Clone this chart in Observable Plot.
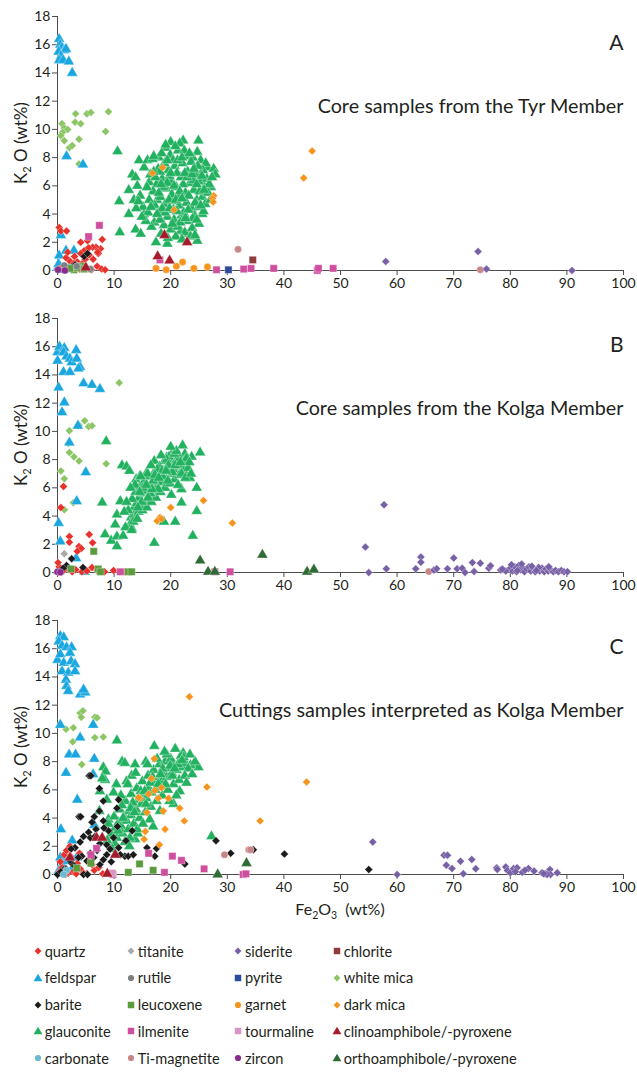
<!DOCTYPE html>
<html><head><meta charset="utf-8">
<script src="https://cdn.jsdelivr.net/npm/d3@7"></script>
<script src="https://cdn.jsdelivr.net/npm/@observablehq/plot@0.6"></script>
<style>
body{margin:0;background:#fff;font-family:Lato,"Open Sans",sans-serif;}
#chart{position:relative;width:637px;}
#chart svg{display:block;}
#legend{position:relative;width:637px;height:142px;}
.item{position:absolute;display:flex;align-items:center;height:20px;font-size:14.6px;color:#231f20;white-space:nowrap;}
.item svg{margin-right:2px;}
</style></head><body><div id="chart"></div><div id="legend"></div>
<script>
// ---------- categories ----------
const minerals = ["quartz","titanite","siderite","chlorite","feldspar","rutile","pyrite","white mica","barite","leucoxene","garnet","dark mica","glauconite","ilmenite","tourmaline","clinoamphibole/-pyroxene","carbonate","Ti-magnetite","zircon","orthoamphibole/-pyroxene"];
const mineralColors = ["#e8312b","#a9a9ab","#7760a6","#8e3b3a","#1aa7e0","#7d7f81","#2e4b9b","#8cc564","#1b1b1b","#5a9c3c","#f7941e","#f7941e","#21b15f","#cf4f9e","#d696c3","#a51b2c","#6ab9cf","#c88585","#8a2b8c","#2f6b35"];
const mineralSymbols = ["diamond2","diamond2","diamond2","square","triangle","circle","square","diamond2","diamond2","square","circle","diamond2","triangle","square","square","triangle","circle","circle","circle","triangle"];
const drawOrder = ["glauconite","white mica","feldspar","quartz","barite","leucoxene","rutile","titanite","carbonate","zircon","dark mica","garnet","ilmenite","tourmaline","chlorite","pyrite","Ti-magnetite","clinoamphibole/-pyroxene","orthoamphibole/-pyroxene","siderite"];
const xTicks = [0,10,20,30,40,50,60,70,80,90,100];
const yTicks = [0,2,4,6,8,10,12,14,16,18];
const panelLetters = ["A","B","C"];
const panelTitles = ["Core samples from the Tyr Member","Core samples from the Kolga Member","Cuttings samples interpreted as Kolga Member"];

// ---------- Panel A: Tyr Member core (Fe2O3, K2O) ----------
const A_feldspar = [[0.3,16.4],[0.5,16.0],[0.8,15.8],[1.2,15.6],[0.2,15.5],[1.5,15.7],[0.6,15.2],[0.3,14.9],[1.0,14.9],[2.0,14.8],[2.6,14.0],[1.6,8.1],[4.5,7.5],[0.6,2.5],[1.5,1.4],[2.9,1.4],[0.3,1.05],[2.3,0.35],[0.1,0.2],[0.5,0.1],[0.2,0.45],[1.1,0.05]];
const A_whiteMica = [[0.8,10.4],[1.2,10.1],[0.9,9.8],[0.6,9.55],[1.2,9.2],[1.8,10.0],[2.1,8.7],[2.6,8.85],[3.8,9.3],[3.2,11.1],[3.1,10.5],[4.1,10.4],[5.2,11.1],[5.9,11.2],[9.0,11.25],[8.5,9.85],[3.8,7.55],[5.4,1.6]];
const A_quartz = [[0.3,3.05],[0.6,2.8],[1.6,2.8],[7.9,2.2],[7.6,1.55],[6.8,1.65],[4.1,2.0],[4.7,1.4],[2.1,0.7],[3.0,1.0],[3.5,0.6],[5.6,1.1],[6.3,0.8],[7.2,1.2],[5.3,2.1],[6.2,1.65],[1.0,0.3],[1.5,0.9],[2.6,0.2],[3.9,0.1],[4.4,0.5],[5.2,0.2],[6.0,0.05],[7.0,0.3],[7.8,0.1],[8.4,0.05],[0.2,0.1],[1.8,1.3],[2.9,0.5],[4.9,0.8],[5.5,1.6],[7.1,1.3],[3.3,0.3],[4.1,1.2]];
const A_barite = [[4.7,1.0],[5.3,1.2],[3.1,0.4]];
const A_leucoxene = [[4.1,0.3],[2.9,0.05],[3.6,0.2],[4.7,0.1],[2.2,0.15]];
const A_rutile = [[1.2,0.35],[3.4,0.3],[5.8,0.1]];
const A_zircon = [[0.1,0.05],[1.3,0.0]];
const A_glauconite = [[10.6,8.45],[10.9,4.9],[11.0,2.7],[12.6,5.7],[13.2,6.8],[13.8,6.6],[12.6,4.0],[13.5,5.0],[14.4,7.8],[14.1,6.0],[15.3,7.3],[15.9,7.8],[13.8,2.9],[14.7,2.6],[15.3,4.0],[17.4,2.0],[19.4,1.9],[17.6,5.0],[19.2,8.7],[20.0,9.1],[22.2,9.2],[24.9,9.2],[24.7,8.4],[25.3,7.8],[26.5,7.3],[27.6,7.2],[27.9,6.8],[27.1,5.9],[25.6,4.0],[24.7,2.1],[23.2,2.6],[21.8,2.8],[17.9,8.0],[16.8,7.9],[16.2,6.25],
[18.5,6.5],[19.2,5.8],[20.1,6.3],[21.0,5.9],[21.8,6.6],[22.6,5.5],[23.4,6.2],[24.1,5.7],[19.6,7.1],[20.7,7.4],[22.1,7.6],[23.0,7.0],[24.5,6.8],[25.3,6.3],[26.0,5.9],[18.2,5.2],[19.0,4.7],[20.3,4.9],[21.5,4.6],[22.8,4.8],[23.7,4.4],[24.6,5.0],[25.6,5.2],[26.4,6.5],[17.5,6.1],[16.9,5.6],[17.2,4.6],[18.0,4.1],[19.4,3.8],[20.6,3.6],[21.9,3.9],[23.1,3.5],[24.2,3.9],[25.0,3.3],[18.8,3.2],[20.0,2.9],[21.2,3.1],[22.5,2.7],[23.8,3.0],[19.9,8.2],[21.3,8.5],[22.7,8.1],[23.9,8.0],[21.6,9.0],[20.4,7.8],[18.9,7.6],[17.8,7.2],[16.4,6.8],[15.8,5.9],[16.2,5.0],[15.1,4.5],[14.6,5.3],[16.0,4.1],[17.1,3.4],[18.3,2.6],[20.9,2.4],[22.0,2.2],[23.5,2.4],[24.3,2.5],[19.5,2.3],[26.8,6.1],[27.3,6.6],[26.2,7.6],[25.7,7.1],[24.8,7.4],[23.6,7.7],[22.4,8.5],[20.8,8.8],[19.1,8.9],[18.4,8.3],[17.0,8.1],[20.2,5.4],[21.4,5.2],[22.2,6.1],[23.2,5.3],[24.0,6.4],[19.8,6.7],[21.1,6.9],[22.9,6.6],[25.1,5.6],[18.7,5.9],[17.9,5.5],[20.5,4.3],[22.3,4.1],[24.9,4.5],[26.1,4.7],[27.0,5.0],[19.0,4.1],[21.7,3.4],[23.9,3.7],[25.8,4.2],[16.6,3.1],[15.6,3.5],[14.9,3.8],[13.9,4.4],[14.3,4.9],
[17.3,6.6],[18.1,7.0],[19.4,6.2],[20.6,6.0],[21.6,5.6],[22.5,6.9],[23.8,6.8],[24.6,6.1],[25.5,6.7],[19.7,5.0],[20.9,5.0],[22.0,5.1],[23.1,4.3],[24.3,4.8],[25.3,4.6],[18.5,4.4],[19.8,4.4],[21.1,4.2],[22.6,3.7],[24.6,3.6],[20.3,3.3],[18.1,3.6],[17.6,4.0],[16.5,4.5],[26.6,5.5],[25.9,5.7],[21.2,7.8],[22.0,8.0],[23.3,8.3],[19.4,7.8],[18.3,6.1],[17.0,7.0],[24.1,7.2],[20.0,6.9]];
const A_darkMica = [[16.8,6.9],[18.6,7.3],[20.6,4.3],[27.6,5.3],[27.4,5.1],[27.5,4.85],[45.0,8.47],[43.5,6.56]];
const A_garnet = [[17.4,0.15],[19.2,0.05],[21.0,0.3],[22.1,0.6],[24.1,0.15],[26.5,0.25]];
const A_clino = [[18.9,2.5],[22.9,2.0],[17.7,1.0],[19.8,0.7],[5.0,0.2]];
const A_ilmenite = [[7.4,3.2],[5.5,2.4],[18.1,0.75],[28.1,0.05],[32.9,0.1],[34.2,0.15],[38.2,0.15],[45.9,0.0],[46.1,0.15],[48.7,0.15]];
const A_chlorite = [[34.5,0.75]];
const A_pyrite = [[30.2,0.05]];
const A_tiMagnetite = [[31.9,1.5],[74.7,0.05]];
const A_siderite = [[58.0,0.64],[74.3,1.35],[75.8,0.1],[90.9,0.0]];

// ---------- Panel B: Kolga Member core ----------
const B_feldspar = [[0.0,15.6],[0.35,16.0],[1.2,15.9],[1.06,15.6],[1.6,15.3],[2.2,15.15],[2.5,14.9],[3.3,15.75],[3.4,15.15],[4.0,14.55],[3.7,14.45],[1.06,14.2],[2.2,14.2],[0.0,15.0],[4.6,13.4],[6.1,13.3],[7.5,13.0],[0.2,13.1],[1.2,12.05],[0.8,11.35],[3.6,10.4],[2.1,9.2],[5.0,7.1],[3.4,5.05],[0.2,3.5],[0.5,2.2],[3.3,1.0],[0.2,0.1],[0.5,0.2],[4.8,0.05]];
const B_whiteMica = [[10.9,13.45],[4.8,10.75],[5.5,10.35],[6.1,10.4],[3.8,10.45],[2.1,10.05],[1.9,9.15],[2.1,8.5],[2.9,8.2],[3.8,7.9],[8.6,7.7],[0.6,7.2],[1.2,6.65],[2.8,4.95],[1.2,4.45]];
const B_quartz = [[1.06,6.1],[0.6,4.6],[2.1,2.55],[2.1,2.15],[3.8,1.85],[4.2,1.7],[3.5,1.5],[5.6,2.7],[6.2,2.1],[6.1,0.35],[7.0,0.15],[9.9,0.15],[4.3,0.05],[0.3,0.4],[1.0,0.1],[1.8,0.3],[2.6,0.05],[3.2,0.2],[5.2,0.1],[8.3,0.05],[11.9,0.05],[0.1,0.7]];
const B_titanite = [[1.2,1.33]];
const B_barite = [[2.5,0.97],[1.6,0.5],[4.5,0.36],[1.0,0.3]];
const B_leucoxene = [[6.4,1.5],[2.4,0.25],[7.2,0.25],[12.5,0.05],[13.1,0.05],[7.6,0.05]];
const B_ilmenite = [[11.1,0.05],[27.8,0.05],[30.5,0.05]];
const B_zircon = [[0.0,0.05],[0.5,0.02]];
const B_glauconite = [[8.6,9.3],[7.9,4.95],[8.4,2.7],[9.5,2.25],[10.5,2.55],[10.5,1.85],[11.6,2.6],[11.4,7.6],[12.2,7.5],[12.7,7.2],[11.1,5.05],[10.5,4.1],[10.2,3.4],[13.1,3.15],[13.4,4.0],[13.9,6.6],[14.6,6.85],[15.8,7.1],[17.1,2.1],[18.8,3.6],[20.8,3.6],[21.9,4.95],[21.9,5.9],[23.4,6.7],[23.7,8.2],[22.1,9.0],[22.5,8.4],[25.2,8.5],[24.6,6.0],[24.6,4.35],[23.9,2.6],[20.1,5.5],[17.1,7.9],[19.3,8.15],[20.2,8.4],
[13.5,4.6],[14.0,4.9],[14.4,5.3],[14.8,4.7],[15.2,5.6],[15.6,5.1],[16.0,6.0],[16.3,5.5],[16.7,6.3],[17.0,5.8],[17.4,6.6],[17.7,6.1],[18.1,6.9],[18.4,6.4],[18.8,7.2],[19.1,6.7],[19.4,7.5],[19.8,7.0],[20.1,7.7],[20.5,7.3],[20.9,7.9],[21.2,7.5],[21.6,8.1],[22.0,7.6],[22.4,7.9],[13.2,5.2],[13.8,5.7],[14.6,6.1],[15.4,6.5],[16.2,6.8],[17.1,7.1],[18.0,7.5],[18.9,7.9],[19.7,8.2],[20.6,8.4],[13.0,3.9],[13.6,4.1],[14.3,4.3],[15.0,4.4],[15.8,4.6],[16.6,5.0],[17.4,5.3],[18.2,5.7],[19.0,6.0],[19.9,6.3],[20.7,6.6],[21.5,6.9],[22.3,7.2],[23.1,7.4],[12.5,4.4],[12.8,3.4],[13.4,3.6],[14.1,3.8],[12.2,5.0],[11.8,4.3],[12.0,3.2],[13.1,3.0],[15.5,5.8],[16.9,6.5],[18.6,6.8],[20.3,7.1],[21.9,7.0],[22.8,8.1],[23.3,7.8],[19.5,6.5],[17.8,5.9],[16.4,5.6],[14.9,5.0],[14.2,4.6],[21.0,8.6],[19.3,8.0],[17.6,7.3],[20.0,8.9],[18.3,8.3],[15.9,7.0],[14.7,6.8],[13.7,6.2],[16.5,7.6],[22.6,6.7],[21.3,6.2],[23.6,7.0],[12.9,6.0],
[15.1,6.0],[16.0,5.3],[17.2,6.9],[18.5,7.2],[19.6,7.6],[20.8,7.6],[21.7,7.8],[17.9,6.7],[16.7,5.9],[15.7,6.2],[14.5,5.7],[19.2,7.2]];
const B_darkMica = [[25.8,5.1],[20.0,4.6],[18.1,3.9],[17.6,3.65],[18.4,3.8],[30.9,3.5]];
const B_ortho = [[25.2,0.85],[36.2,1.25],[26.6,0.05],[27.8,0.05],[44.1,0.05],[45.3,0.2]];
const B_tiMagnetite = [[65.6,0.07]];
const B_siderite = [[57.7,4.8],[54.4,1.8],[55.0,0.0],[58.1,0.26],[63.3,0.26],[64.2,1.09],[64.2,0.73],[66.5,0.17],[67.0,0.26],[68.9,0.26],[70.0,1.02],[70.6,0.26],[71.5,0.3],[72.0,0.0],[73.3,0.7],[73.6,0.07],[74.7,0.66],[76.2,0.3],[76.5,0.47],[78.3,0.17],
[80.0,0.3],[80.4,0.1],[80.8,0.4],[81.1,0.05],[81.5,0.5],[81.8,0.2],[82.1,0.35],[82.5,0.05],[82.9,0.25],[83.3,0.4],[83.6,0.1],[84.0,0.3],[84.4,0.05],[84.8,0.2],[85.2,0.1],[85.6,0.3],[86.0,0.05],[86.3,0.25],[86.7,0.1],[87.1,0.2],[87.6,0.05],[88.0,0.15],[88.5,0.05],[89.0,0.15],[89.5,0.05],[90.1,0.05],[79.2,0.1],[78.6,0.25],[80.2,0.55],[82.0,0.6],[83.8,0.45],[85.0,0.35],[86.8,0.4],[81.3,0.15],[84.6,0.15]];

// ---------- Panel C: cuttings interpreted as Kolga Member ----------
const C_feldspar = [[0.5,16.9],[1.1,16.8],[0.2,16.5],[0.8,16.2],[1.6,16.1],[2.5,16.1],[2.2,15.7],[0.0,15.2],[0.5,15.6],[1.1,15.0],[2.4,15.1],[3.1,14.9],[0.8,14.4],[1.9,14.3],[3.1,14.4],[1.5,13.8],[1.6,13.35],[1.9,13.0],[4.0,12.75],[4.9,12.9],[4.6,13.1],[0.5,10.6],[4.0,9.7],[2.05,8.5],[3.2,8.5],[1.5,7.2],[6.5,8.2],[6.3,10.6],[6.3,7.1],[3.5,5.3],[0.6,3.2],[6.5,3.5],[2.6,2.4],[0.5,1.2],[0.8,0.7],[1.6,0.95],[0.2,0.25],[1.1,0.05],[2.5,0.35],[3.4,1.2]];
const C_whiteMica = [[4.0,11.45],[4.5,11.6],[4.2,11.15],[6.6,11.15],[7.0,11.1],[1.5,10.3],[2.8,10.4],[2.7,9.4],[6.6,9.7],[8.1,9.75],[4.3,7.8]];
const C_quartz = [[0.3,0.2],[0.8,0.5],[1.2,1.4],[1.6,1.7],[2.3,1.3],[3.0,1.9],[3.5,0.8],[4.0,0.4],[4.6,0.1],[5.2,0.05],[2.8,0.2],[1.9,0.1],[0.5,0.9],[6.5,0.3],[7.3,0.5],[8.0,0.05],[9.4,0.05],[3.9,1.5],[2.2,2.0],[5.6,1.0],[6.1,0.7],[1.4,0.0],[3.3,0.05]];
const C_barite = [[5.6,7.0],[7.4,6.1],[8.1,5.2],[3.8,4.1],[7.4,4.5],[6.1,3.7],[5.5,3.0],[4.6,2.7],[5.8,2.6],[4.0,2.3],[3.1,1.9],[2.4,1.8],[6.6,2.7],[7.5,2.2],[8.7,2.1],[9.9,2.6],[10.8,1.9],[11.9,1.3],[12.5,1.3],[13.4,1.4],[15.8,1.9],[17.2,1.3],[17.5,1.85],[22.5,0.75],[28.0,2.4],[30.6,1.5],[40.1,1.45],[34.6,1.75],[55.0,0.35],[4.3,1.3],[5.2,0.95],[6.4,1.2],[7.5,0.7],[8.1,1.05],[8.7,1.4],[5.8,1.5],[3.7,1.2],[2.5,0.8],[1.1,0.35],[0.0,0.0],[4.6,0.0],[5.3,0.0],[9.3,1.8],[11.1,1.4],[8.1,3.8],[9.0,3.1],[10.5,4.7],[10.8,5.3],[4.1,4.1],[6.5,4.1],[5.9,7.0],[8.2,3.3],[10.6,3.4],[13.2,3.1],[12.1,2.4],[7.0,1.7],[9.5,0.9],[6.8,3.2],[0.6,0.2],[1.5,0.4],[2.2,1.0],[3.0,0.6]];
const C_glauconite = [[10.5,9.5],[17.1,9.1],[22.2,8.6],[24.6,7.7],[24.9,7.6],[23.5,7.75],[7.5,5.9],[7.4,4.5],[8.1,7.6],[8.4,6.7],[11.4,8.0],[11.9,7.9],[13.7,7.8],[15.6,8.0],[13.1,7.0],[12.2,6.6],[10.4,6.4],[9.9,5.8],[8.7,5.3],[9.0,3.9],[9.6,2.8],[13.7,2.5],[16.9,3.4],[20.5,5.0],[21.6,5.9],[27.2,2.7],[8.5,7.3],[7.9,6.8],
[9.5,2.9],[10.2,3.3],[10.8,3.7],[11.3,3.4],[11.8,4.1],[12.2,3.8],[12.6,4.5],[13.0,4.2],[13.4,4.9],[13.9,4.6],[14.3,5.3],[14.8,5.0],[15.2,5.7],[15.7,5.4],[16.1,6.1],[16.6,5.8],[17.0,6.5],[17.5,6.2],[17.9,6.9],[18.4,6.6],[18.8,7.2],[19.3,6.9],[19.7,7.5],[20.2,7.2],[20.6,7.8],[21.1,7.4],[21.6,8.0],[22.1,7.6],[22.6,7.9],[23.1,7.5],[9.0,3.6],[10.0,4.1],[11.0,4.6],[12.0,5.2],[13.0,5.7],[14.0,6.1],[15.0,6.6],[16.0,7.0],[17.0,7.4],[18.0,7.8],[19.0,8.0],[20.0,8.2],[10.5,2.6],[11.5,2.9],[12.5,3.2],[13.5,3.6],[14.5,4.0],[15.5,4.4],[16.5,4.8],[17.5,5.2],[18.5,5.6],[19.5,6.0],[20.5,6.4],[21.5,6.7],[22.5,7.0],[11.9,2.3],[12.8,2.6],[10.1,2.2],[8.8,2.4],[9.7,1.8],[14.2,2.9],[16.3,3.9],[18.1,4.5],[19.8,5.2],[21.0,5.6],[22.8,6.5],[23.8,7.1],[24.3,8.0],[21.8,8.4],[19.3,8.5],[17.6,8.2],[15.9,7.8],[13.8,7.2],[12.4,6.4],[11.2,5.6],[16.8,6.9],[18.6,7.5],[20.8,8.9],[14.7,5.9],[13.3,5.1],[11.6,4.0],[10.7,3.1],[17.3,6.0],[19.1,6.4],[20.3,7.0],[15.6,5.0],[22.3,8.3],[23.4,8.5],[18.9,8.7],[14.1,3.2],[12.7,2.0],[15.1,3.6],
[12.9,4.7],[14.6,5.5],[16.4,6.5],[18.2,7.1],[19.9,7.7],[21.3,7.8],[17.8,6.4],[15.4,5.9],[13.6,4.4],[11.4,4.9],[20.7,7.5],[22.0,8.1]];
const C_darkMica = [[23.3,12.6],[44.0,6.55],[26.4,6.2],[17.1,8.2],[16.6,6.8],[17.2,5.95],[18.4,6.15],[17.8,5.4],[16.1,5.7],[14.6,5.4],[14.3,5.45],[19.6,5.4],[18.7,4.5],[15.8,4.4],[21.6,4.7],[19.0,3.2],[22.4,3.8],[15.5,3.05],[15.3,2.5],[18.0,2.1],[35.8,3.8]];
const C_clino = [[6.9,2.6],[10.2,1.4],[8.8,0.05],[2.2,1.2],[7.9,2.6]];
const C_ilmenite = [[6.9,1.85],[5.9,1.4],[16.1,1.5],[20.3,1.3],[21.9,1.0],[25.9,0.4],[18.9,0.15],[9.8,0.0],[32.8,0.0],[33.3,0.05]];
const C_tourmaline = [[9.7,0.1]];
const C_leucoxene = [[3.4,0.45],[5.9,0.8],[12.5,0.15],[14.5,0.75],[16.9,0.3]];
const C_tiMagnetite = [[29.5,1.4],[33.8,1.75],[34.1,1.75]];
const C_ortho = [[33.4,0.8],[28.3,0.0]];
const C_carbonate = [[1.6,0.3],[1.1,0.0]];
const C_siderite = [[55.7,2.3],[60.0,0.0],[68.3,1.37],[68.9,1.37],[68.7,0.66],[69.7,0.42],[71.2,0.94],[71.7,0.05],[73.2,1.06],[73.9,0.4],[77.6,0.47],[77.7,0.36],[79.2,0.54],[79.5,0.28],[80.0,0.12],[80.6,0.42],[81.2,0.47],[82.1,0.16],[83.2,0.42],[84.2,0.24],[85.6,0.12],[86.2,0.05],[87.0,0.35],[87.1,0.0],[88.3,0.12],[86.5,0.0],[85.9,0.05],[80.9,0.2],[82.6,0.3]];

// ---------- assemble panels ----------
const panels = [
  {"feldspar":A_feldspar,"white mica":A_whiteMica,"quartz":A_quartz,"barite":A_barite,"leucoxene":A_leucoxene,"rutile":A_rutile,"zircon":A_zircon,"glauconite":A_glauconite,"dark mica":A_darkMica,"garnet":A_garnet,"clinoamphibole/-pyroxene":A_clino,"ilmenite":A_ilmenite,"chlorite":A_chlorite,"pyrite":A_pyrite,"Ti-magnetite":A_tiMagnetite,"siderite":A_siderite},
  {"feldspar":B_feldspar,"white mica":B_whiteMica,"quartz":B_quartz,"titanite":B_titanite,"barite":B_barite,"leucoxene":B_leucoxene,"ilmenite":B_ilmenite,"zircon":B_zircon,"glauconite":B_glauconite,"dark mica":B_darkMica,"orthoamphibole/-pyroxene":B_ortho,"Ti-magnetite":B_tiMagnetite,"siderite":B_siderite},
  {"feldspar":C_feldspar,"white mica":C_whiteMica,"quartz":C_quartz,"barite":C_barite,"glauconite":C_glauconite,"dark mica":C_darkMica,"clinoamphibole/-pyroxene":C_clino,"ilmenite":C_ilmenite,"tourmaline":C_tourmaline,"leucoxene":C_leucoxene,"Ti-magnetite":C_tiMagnetite,"orthoamphibole/-pyroxene":C_ortho,"carbonate":C_carbonate,"siderite":C_siderite}
];

const symR = {diamond2:3.6, square:4.1, triangle:4.1, circle:3.6};
const d3sym = {diamond2:d3.symbolDiamond2, square:d3.symbolSquare, triangle:d3.symbolTriangle, circle:d3.symbolCircle};
const axisColor = "#4d4d4d";
const chart = document.getElementById("chart");

panels.forEach((panel, i) => {
  const last = i === panels.length - 1;
  const marks = [
    Plot.ruleY([0], {stroke: axisColor, strokeWidth: 1}),
    Plot.ruleX([0], {stroke: axisColor, strokeWidth: 1}),
    Plot.axisY(yTicks, {tickSize: 5, tickPadding: 2, label: null, stroke: axisColor, fill: "#231f20", fontSize: 14}),
    Plot.axisX(xTicks, {tickSize: 5, tickPadding: 3, label: null, stroke: axisColor, fill: "#231f20", fontSize: 14})
  ];
  drawOrder.forEach(name => {
    const pts = panel[name];
    if (!pts) return;
    const k = minerals.indexOf(name);
    const sym = mineralSymbols[k];
    marks.push(Plot.dot(pts, {x: d => d[0], y: d => d[1], fill: mineralColors[k], symbol: sym, r: symR[sym], stroke: "white", strokeWidth: 0.5, strokeOpacity: 0.7}));
  });
  marks.push(Plot.text([panelLetters[i]], {text: d => d, frameAnchor: "top-right", dy: 27, lineAnchor: "middle", fontSize: 21, fill: "#231f20"}));
  marks.push(Plot.text([panelTitles[i]], {text: d => d, frameAnchor: "top-right", dy: 90, lineAnchor: "middle", fontSize: 19.8, fill: "#231f20"}));
  const svg = Plot.plot({
    width: 637, height: last ? 326 : 302,
    marginLeft: 57, marginRight: 14, marginTop: 16, marginBottom: last ? 56 : 32,
    x: {domain: [0, 100], axis: null},
    y: {domain: [0, 18], axis: null},
    style: {fontFamily: "Lato, 'Open Sans', sans-serif", background: "white", overflow: "visible", color: "#231f20"},
    marks
  });
  const s = d3.select(svg);
  // y axis label K2O (wt%) with subscript
  const yl = s.append("text").attr("transform", "translate(27,143) rotate(-90)").attr("text-anchor", "middle")
    .attr("font-size", 17).attr("fill", "#231f20").attr("font-family", "Lato, sans-serif");
  yl.append("tspan").text("K");
  yl.append("tspan").text("2").attr("font-size", 11).attr("dy", 4);
  yl.append("tspan").text(" O (wt%)").attr("dy", -4);
  if (last) {
    const xl = s.append("text").attr("x", 340).attr("y", 311).attr("text-anchor", "middle")
      .attr("font-size", 16).attr("fill", "#231f20").attr("font-family", "Lato, sans-serif");
    xl.append("tspan").text("Fe");
    xl.append("tspan").text("2").attr("font-size", 10.5).attr("dy", 4);
    xl.append("tspan").text("O").attr("dy", -4);
    xl.append("tspan").text("3").attr("font-size", 10.5).attr("dy", 4);
    xl.append("tspan").text("\u00a0\u00a0(wt%)").attr("dy", -4);
  }
  chart.appendChild(svg);
});

// ---------- legend ----------
const legend = document.getElementById("legend");
const colX = [37.7, 130.7, 238, 336.7];
minerals.forEach((name, k) => {
  const row = Math.floor(k / 4), col = k % 4;
  const cy = 21 + row * 26.8;
  const div = document.createElement("div");
  div.className = "item";
  div.style.left = (colX[col] - 5) + "px";
  div.style.top = (cy - 10) + "px";
  const sv = d3.create("svg").attr("width", 10).attr("height", 10);
  const sym = mineralSymbols[k];
  const size = sym === "square" ? 42 : sym === "triangle" ? 34 : 30;
  sv.append("path").attr("transform", sym === "triangle" ? "translate(5,5.8)" : "translate(5,5)")
    .attr("d", d3.symbol(d3sym[sym], size)()).attr("fill", mineralColors[k]);
  div.appendChild(sv.node());
  const span = document.createElement("span");
  span.textContent = name;
  div.appendChild(span);
  legend.appendChild(div);
});
</script>
</body></html>
